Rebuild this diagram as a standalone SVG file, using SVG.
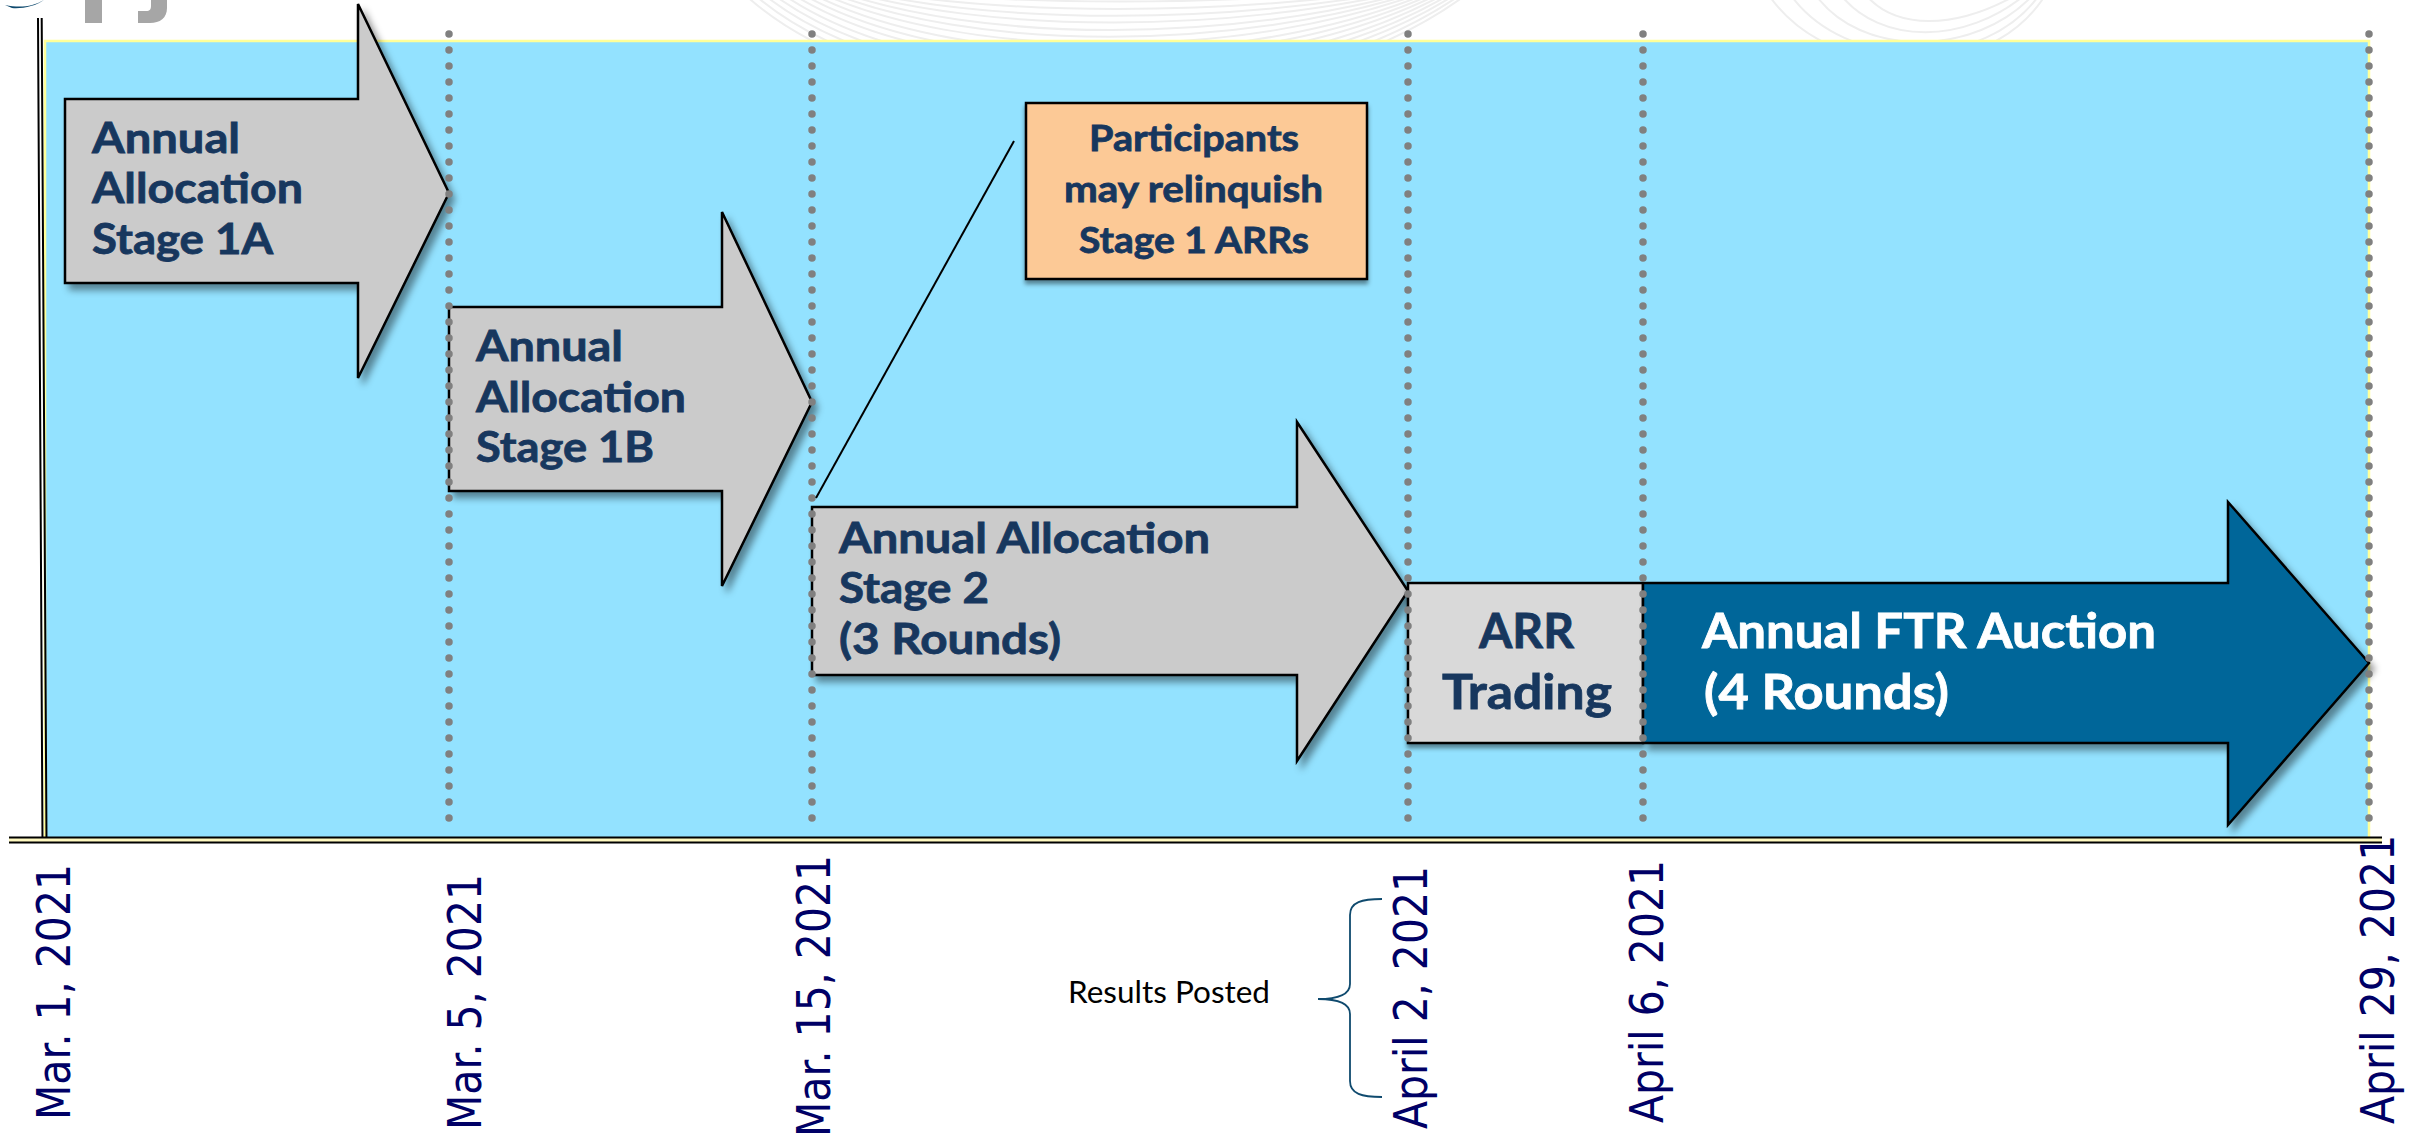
<svg xmlns="http://www.w3.org/2000/svg" width="2419" height="1137" viewBox="0 0 2419 1137">
<style>
.arrow{stroke:#000;stroke-width:2.5;stroke-linejoin:miter;filter:url(#shadow)}
.gray{fill:#cbcbcb}
.t{font-family:Lato,"Noto Sans","Liberation Sans",sans-serif;font-weight:700;fill:#17375e;stroke:#17375e;stroke-width:.8}
.w{fill:#fff;stroke:#fff}
.a{font-size:42.5px}
.b{font-size:36px}
.c{font-size:48px}
.date{font-family:"DejaVu Sans",sans-serif;font-size:41px;fill:#000066}
.dots{stroke:#808080;stroke-width:7.5;stroke-linecap:round;stroke-dasharray:0 16;fill:none}
.axis{stroke:#000;fill:none}
.wm{fill:none;stroke:#eeeeee;stroke-width:2}
</style>
<defs>
<filter id="shadow" x="-10%" y="-10%" width="125%" height="125%">
<feDropShadow dx="5" dy="6" stdDeviation="3.5" flood-color="#000" flood-opacity="0.42"/>
</filter>
<filter id="boxshadow" x="-5%" y="-10%" width="110%" height="125%">
<feDropShadow dx="0" dy="4" stdDeviation="2" flood-color="#000" flood-opacity="0.42"/>
</filter>
<clipPath id="topband"><rect x="0" y="0" width="2419" height="40"/></clipPath>
</defs>
<rect width="2419" height="1137" fill="#fff"/>
<g id="watermark" clip-path="url(#topband)">
<path class="wm" d="M738 -12C888 137 1285 137 1475 -12"/>
<path class="wm" d="M747 -12C897 128 1280 128 1470 -12"/>
<path class="wm" d="M756 -12C906 118 1275 118 1465 -12"/>
<path class="wm" d="M765 -12C915 109 1270 109 1460 -12"/>
<path class="wm" d="M774 -12C924 100 1265 100 1455 -12"/>
<path class="wm" d="M783 -12C933 90 1260 90 1450 -12"/>
<path class="wm" d="M792 -12C942 81 1255 81 1445 -12"/>
<path class="wm" d="M801 -12C951 72 1250 72 1440 -12"/>
<path class="wm" d="M810 -12C960 62 1245 62 1435 -12"/>
<path class="wm" d="M819 -12C969 53 1240 53 1430 -12"/>
<path class="wm" d="M828 -12C978 44 1235 44 1425 -12"/>
<path class="wm" d="M837 -12C987 34 1230 34 1420 -12"/>
<path class="wm" d="M846 -12C996 25 1225 25 1415 -12"/>
<path class="wm" d="M855 -12C1005 16 1220 16 1410 -12"/>
<path class="wm" d="M864 -12C1014 6 1215 6 1405 -12"/>
<path class="wm" d="M1768 -6C1830 85 1990 85 2046 -6"/>
<path class="wm" d="M1790 -6C1845 72 1985 72 2040 -6"/>
<path class="wm" d="M1815 -6C1860 58 1975 58 2034 -6"/>
<path class="wm" d="M1840 -6C1880 45 1965 45 2026 -6"/>
<path class="wm" d="M1865 -6C1895 30 1955 30 2018 -6"/>
</g>
<g id="logo-fragment">
<rect x="85" y="0" width="17" height="23" fill="#a6a6a6"/>
<path d="M151 0H167V8C167 18 160 23 150 23H138V11H146C150 11 151 9 151 6Z" fill="#a6a6a6"/>
<path d="M5 5C20 8 32 7 44 0C36 6 22 9 12 8Z" fill="#0f4a6e"/>
</g>
<g id="panel">
<rect x="44" y="41" width="2325" height="798" fill="#93e2ff"/>
<path d="M45 839V41H2369V839" fill="none" stroke="#ffff99" stroke-width="2.5"/>
</g>
<g id="axes">
<path class="axis" stroke-width="2" d="M38 18L42.5 842M41.7 18L46.5 842"/>
<rect x="9" y="838" width="2373" height="4" fill="#fff9c0"/>
<path class="axis" stroke-width="1.8" d="M9 837.5H2382M9 842.5H2382"/>
</g>
<g id="stage-1a">
<path class="arrow gray" d="M65 99H358V4L449 193L358 378V283H65Z"/>
<text class="t a"><tspan x="92" y="153" textLength="148" lengthAdjust="spacingAndGlyphs">Annual</tspan><tspan x="92" y="203" textLength="211" lengthAdjust="spacingAndGlyphs">Allocation</tspan><tspan x="92" y="254" textLength="181" lengthAdjust="spacingAndGlyphs">Stage 1A</tspan></text>
</g>
<g id="stage-1b">
<path class="arrow gray" d="M449 307H722V212L812 402L722 586V491H449Z"/>
<text class="t a"><tspan x="476" y="361" textLength="147" lengthAdjust="spacingAndGlyphs">Annual</tspan><tspan x="476" y="412" textLength="210" lengthAdjust="spacingAndGlyphs">Allocation</tspan><tspan x="476" y="462" textLength="178" lengthAdjust="spacingAndGlyphs">Stage 1B</tspan></text>
</g>
<g id="stage-2">
<path class="arrow gray" d="M812 507H1297V422L1408 591L1297 761V675H812Z"/>
<text class="t a"><tspan x="839" y="553" textLength="371" lengthAdjust="spacingAndGlyphs">Annual Allocation</tspan><tspan x="839" y="603" textLength="150" lengthAdjust="spacingAndGlyphs">Stage 2</tspan><tspan x="839" y="654" textLength="222" lengthAdjust="spacingAndGlyphs">(3 Rounds)</tspan></text>
</g>
<g id="relinquish-note">
<rect x="1026" y="103" width="341" height="176" fill="#fcc996" stroke="#000" stroke-width="2.5" style="filter:url(#boxshadow)"/>
<text class="t b"><tspan x="1089" y="151" textLength="210" lengthAdjust="spacingAndGlyphs">Participants</tspan><tspan x="1064" y="202" textLength="259" lengthAdjust="spacingAndGlyphs">may relinquish</tspan><tspan x="1079" y="253" textLength="230" lengthAdjust="spacingAndGlyphs">Stage 1 ARRs</tspan></text>
</g>
<g id="arr-trading">
<rect x="1408" y="583" width="235" height="160" fill="#d9d9d9" stroke="#000" stroke-width="2.5" style="filter:url(#boxshadow)"/>
<text class="t c"><tspan x="1479" y="648" textLength="95" lengthAdjust="spacingAndGlyphs">ARR</tspan><tspan x="1442" y="709" textLength="170" lengthAdjust="spacingAndGlyphs">Trading</tspan></text>
</g>
<g id="ftr-auction">
<path class="arrow" fill="#006699" d="M1643 583H2228V502L2369 663L2228 825V743H1643Z"/>
<text class="t c w"><tspan x="1702" y="648" textLength="454" lengthAdjust="spacingAndGlyphs">Annual FTR Auction</tspan><tspan x="1704" y="709" textLength="245" lengthAdjust="spacingAndGlyphs">(4 Rounds)</tspan></text>
</g>
<g id="connectors">
<path class="dots" d="M449 34V822"/>
<path class="dots" d="M812 34V822"/>
<path class="dots" d="M1408 34V822"/>
<path class="dots" d="M1643 34V822"/>
<path class="dots" d="M2369 34V822"/>
<path d="M1014 141L816 498" stroke="#000" stroke-width="2" fill="none"/>
<path d="M1382 899C1362 899 1350 902 1350 915V984C1350 994 1340 999 1318 999C1340 999 1350 1004 1350 1014V1081C1350 1094 1362 1097 1382 1097" fill="none" stroke="#0f4a6e" stroke-width="1.8"/>
</g>
<g id="dates">
<text class="date" transform="translate(70 1120) rotate(-90) scale(1 1.12)">Mar. 1, 2021</text>
<text class="date" transform="translate(481 1130) rotate(-90) scale(1 1.12)">Mar. 5, 2021</text>
<text class="date" transform="translate(830 1137) rotate(-90) scale(1 1.12)">Mar. 15, 2021</text>
<text class="date" transform="translate(1427 1129) rotate(-90) scale(1 1.12)">April 2, 2021</text>
<text class="date" transform="translate(1663 1123) rotate(-90) scale(1 1.12)">April 6, 2021</text>
<text class="date" transform="translate(2394 1124) rotate(-90) scale(1 1.12)">April 29, 2021</text>
</g>
<g id="results-posted">
<text x="1068" y="1003" font-family="Lato,'Noto Sans','Liberation Sans',sans-serif" font-size="31" fill="#000" textLength="202" lengthAdjust="spacingAndGlyphs">Results Posted</text>
</g>
</svg>
